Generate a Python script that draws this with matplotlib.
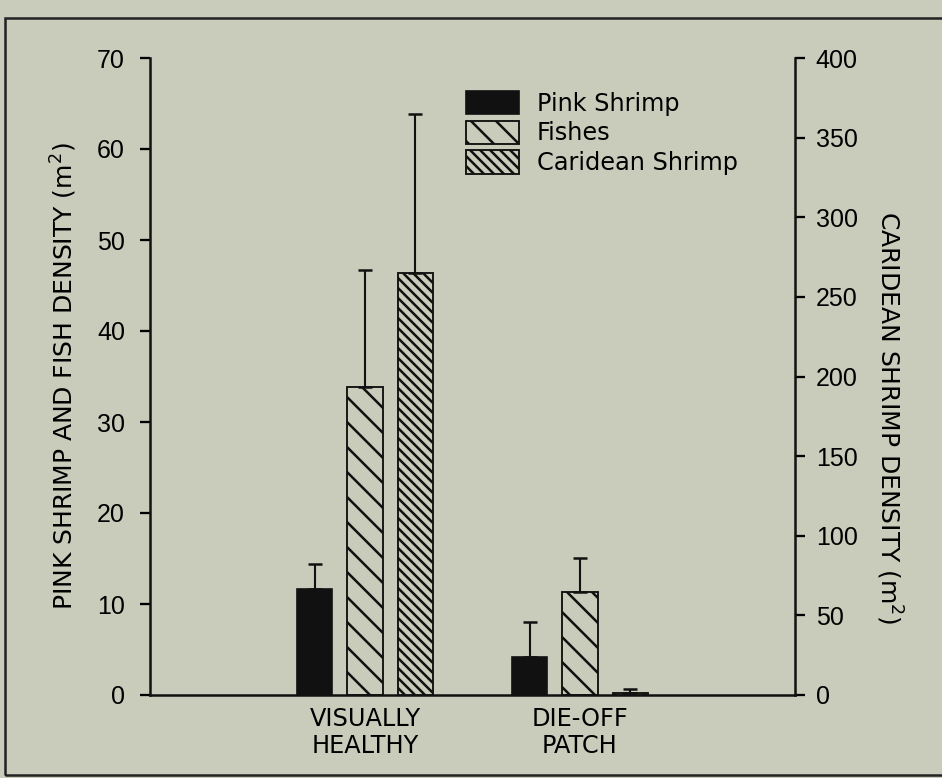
import matplotlib
matplotlib.use('Agg')
import matplotlib.pyplot as plt
import matplotlib.patches as mpatches
import numpy as np

# data
sites = ['VISUALLY\nHEALTHY', 'DIE-OFF\nPATCH']
pink_shrimp = [11.6, 4.2]
pink_shrimp_err = [2.8, 3.8]
fishes = [33.8, 11.3]
fishes_err = [12.9, 3.8]
caridean = [265, 1.5]          # right axis
caridean_err = [100, 2.0]

BG = '#c9cbbb'
plt.rcParams['font.family'] = ['DejaVu Sans']
plt.rcParams['hatch.linewidth'] = 1.2
plt.rcParams['hatch.color'] = '#111111'

fig = plt.figure(figsize=(942 / 150, 778 / 150), dpi=150, facecolor=BG)
ax = fig.add_axes([150 / 942, 1 - 695 / 778, 645 / 942, 637 / 778])
ax.set_facecolor('none')
ax2 = ax.twinx()
ax2.set_facecolor('none')

x = np.arange(len(sites))
off = 0.234
w = 0.164
ekw = dict(lw=1.0, capthick=1.2, color='#111111')

ax.bar(x - off, pink_shrimp, w, color='#111111', edgecolor='#111111', lw=0.8,
       label='Pink Shrimp')
ax.errorbar(x - off, pink_shrimp, yerr=[np.zeros(2), pink_shrimp_err], fmt='none',
            capsize=3.4, **ekw)
ax.bar(x, fishes, w, color=BG, edgecolor='#111111', lw=0.9, hatch='\\\\',
       label='Fishes')
ax.errorbar(x, fishes, yerr=[np.zeros(2), fishes_err], fmt='none', capsize=3.4, **ekw)
ax2.bar(x + off, caridean, w, color=BG, edgecolor='#111111', lw=0.9,
        hatch='\\\\\\\\\\', label='Caridean Shrimp')
ax2.errorbar(x + off, caridean, yerr=[np.zeros(2), caridean_err], fmt='none',
             capsize=3.4, **ekw)

ax.set_xlim(-1, 2)
ax.set_ylim(0, 70)
ax2.set_ylim(0, 400)
ax.set_yticks(np.arange(0, 71, 10))
ax2.set_yticks(np.arange(0, 401, 50))
ax.set_xticks(x)
ax.set_xticklabels(sites, fontsize=11.5, linespacing=1.15)
ax.tick_params(axis='x', length=0, pad=6)
ax.tick_params(axis='y', direction='out', length=5, width=1.1, pad=7)
ax2.tick_params(axis='y', direction='out', length=5, width=1.1, pad=5)
for lab in ax.get_yticklabels() + ax2.get_yticklabels():
    lab.set_fontfamily('Liberation Sans')
    lab.set_fontsize(12)

for a in (ax, ax2):
    a.spines['top'].set_visible(False)
    for s in a.spines.values():
        s.set_linewidth(1.2)
        s.set_color('#111111')
ax.spines['right'].set_visible(False)
ax2.spines['left'].set_visible(False)
ax2.spines['bottom'].set_visible(False)

ax.set_ylabel('PINK SHRIMP AND FISH DENSITY (m$^2$)', fontsize=12)
ax.yaxis.set_label_coords(-0.11, 0.5)
ax2.set_ylabel('CARIDEAN SHRIMP DENSITY (m$^2$)', fontsize=12, rotation=-90)
ax2.yaxis.set_label_coords(1.169, 0.435)

h1, l1 = ax.get_legend_handles_labels()
h2, l2 = ax2.get_legend_handles_labels()
ax2.legend(h1 + h2, l1 + l2, loc='upper left', bbox_to_anchor=(0.49, 0.948),
           frameon=False, fontsize=11.5, handlelength=2.2, handleheight=1.12,
           labelspacing=0.2, handletextpad=0.75, borderaxespad=0, borderpad=0)

# scanned page frame
fig.patches.append(mpatches.Rectangle((5 / 942, 1 - 775 / 778), 1.0, (775 - 18) / 778,
                                      transform=fig.transFigure, fill=False,
                                      lw=1.2, edgecolor='#222222'))

fig.savefig('out.png', dpi=150, facecolor=BG)
